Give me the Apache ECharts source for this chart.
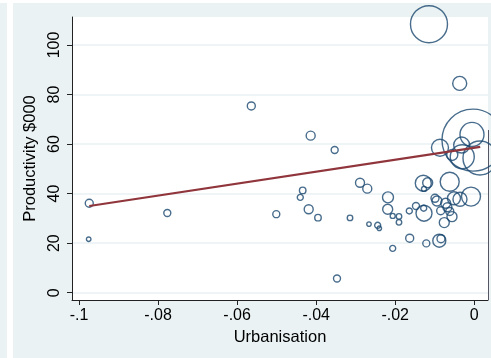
<!DOCTYPE html>
<html>
<head>
<meta charset="utf-8">
<script src="https://cdn.jsdelivr.net/npm/echarts@6/dist/echarts.min.js"></script>
<style>
  html, body { margin: 0; padding: 0; background: #fff; }
  #chart { width: 491px; height: 358px; }
</style>
</head>
<body>
<div id="chart"></div>
<script>
// urbanisation (x), productivity $000 (y), marker weight (diameter)
const urban = [
  -0.01146, -0.00369, -0.05641, -0.04139, -0.03532, -0.09740, -0.09755, -0.07766,
  -0.05009, -0.04341, -0.04402, -0.04189, -0.03954, -0.03473, -0.03144, -0.02891,
  -0.02707, -0.02664, -0.02444, -0.02403, -0.02183, -0.02191, -0.02064, -0.02064,
  -0.01905, -0.01905, -0.01644, -0.01634, -0.01475, -0.01290, -0.01179, -0.01272,
  -0.01280, -0.01272, -0.01214, -0.00885, -0.00842, -0.00994, -0.00944, -0.00868,
  -0.00759, -0.00622, -0.00564, -0.00724, -0.00850, -0.00514, -0.00362, -0.00083,
  -0.00319, -0.00304, -0.00557, -0.00058, -0.00033, 0.00144, -0.00680, -0.00620
];
const productivity = [
  108.4, 84.5, 75.4, 63.4, 57.6, 36.1, 21.6, 32.2,
  31.7, 41.3, 38.5, 33.7, 30.3, 5.7, 30.2, 44.4,
  42.0, 27.7, 27.2, 26.0, 38.5, 33.7, 31.0, 17.9,
  30.8, 28.4, 33.0, 22.0, 35.0, 44.2, 44.4, 41.9,
  34.1, 32.1, 19.9, 21.0, 21.8, 38.1, 37.0, 58.5,
  28.3, 44.8, 30.7, 36.1, 33.1, 38.1, 37.7, 38.8,
  59.6, 54.9, 55.6, 63.9, 61.6, 54.4, 34.5, 32.8
];
const weight = [
  37, 14, 8, 9, 7, 8, 4.5, 7,
  7, 6.5, 6, 9, 6.5, 7, 5.5, 9,
  9, 4.5, 6, 4.5, 11, 10, 5, 6,
  5.5, 5.5, 6, 8, 7, 16, 10, 5,
  6, 16, 7, 13, 8, 8, 10, 17,
  10, 19, 10, 10, 8, 13, 14, 19,
  16, 24, 11, 24, 62, 34, 9, 8
];
// fitted line end points
const fitX = [-0.0974, 0.0015];
const fitY = [35.0, 58.9];

const xTicks = [-0.1, -0.08, -0.06, -0.04, -0.02, 0];
const xTickLabels = ['-.1', '-.08', '-.06', '-.04', '-.02', '0'];
const yTicks = [0, 20, 40, 60, 80, 100];
const yTickLabels = ['0', '20', '40', '60', '80', '100'];

const pick = (ticks, labels) => v => {
  const i = ticks.findIndex(t => Math.abs(t - v) < 1e-9);
  return i < 0 ? '' : labels[i];
};

const chart = echarts.init(document.getElementById('chart'), null, { renderer: 'canvas' });

const font = '"Liberation Sans", Arial, sans-serif';
const bg = '#eaf2f3';
const axisCol = '#222';

chart.setOption({
  animation: false,
  backgroundColor: '#ffffff',
  textStyle: { fontFamily: font },
  graphic: [
    { type: 'rect', z: -10, shape: { x: 0, y: 3, width: 7, height: 355 }, style: { fill: bg } },
    { type: 'rect', z: -10, shape: { x: 13, y: 3, width: 478, height: 355 }, style: { fill: bg } },
    { type: 'line', z: 1, shape: { x1: 488.5, y1: 130, x2: 488.5, y2: 300 }, style: { stroke: '#556', lineWidth: 1 } }
  ],
  grid: {
    left: 72, right: 3, top: 17, bottom: 58,
    show: true, backgroundColor: '#ffffff', borderWidth: 0
  },
  xAxis: {
    type: 'value',
    min: -0.10177, max: 0.00347,
    name: 'Urbanisation',
    nameLocation: 'middle',
    nameGap: 26,
    nameTextStyle: { fontSize: 16.5, color: '#000', fontFamily: font },
    axisLine: { show: true, onZero: false, lineStyle: { color: axisCol, width: 1 } },
    axisTick: { show: true, length: 5, customValues: xTicks, lineStyle: { color: axisCol } },
    axisLabel: {
      customValues: xTicks, formatter: pick(xTicks, xTickLabels),
      fontSize: 16, color: '#000', margin: 8, fontFamily: font
    },
    splitLine: { show: false }
  },
  yAxis: {
    type: 'value',
    min: -2.95, max: 111.3,
    name: 'Productivity $000',
    nameLocation: 'middle',
    nameGap: 27,
    nameRotate: 90,
    nameTextStyle: { fontSize: 16.5, color: '#000', fontFamily: font },
    axisLine: { show: true, onZero: false, lineStyle: { color: axisCol, width: 1 } },
    axisTick: { show: true, length: 5, customValues: yTicks, lineStyle: { color: axisCol } },
    axisLabel: {
      customValues: yTicks, formatter: pick(yTicks, yTickLabels),
      rotate: 90, fontSize: 16, color: '#000', margin: 9, fontFamily: font
    },
    splitLine: { show: true, lineStyle: { color: bg, width: 1.5 } }
  },
  series: [
    {
      type: 'scatter',
      clip: false,
      data: urban.map((u, i) => [u, productivity[i], weight[i]]),
      symbol: 'circle',
      symbolSize: d => d[2],
      itemStyle: { color: 'rgba(0,0,0,0)', borderColor: '#1a476f', borderWidth: 1.4 },
      z: 3
    },
    {
      type: 'line',
      data: fitX.map((x, i) => [x, fitY[i]]),
      showSymbol: false,
      lineStyle: { color: '#90353b', width: 2.2 },
      z: 4
    }
  ]
});
</script>
</body>
</html>
